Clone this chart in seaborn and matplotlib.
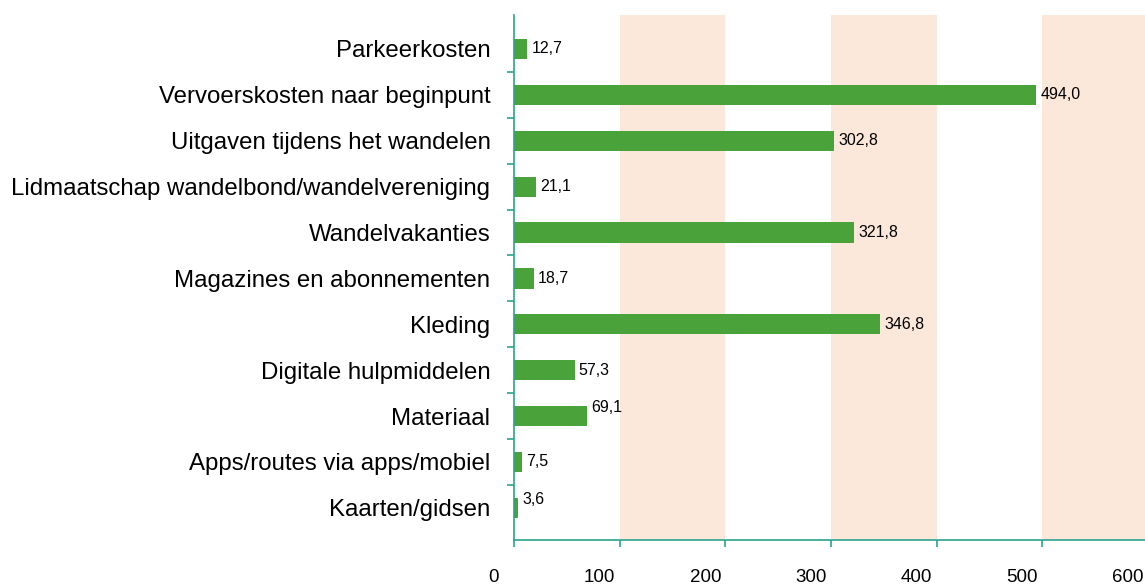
import matplotlib
matplotlib.use('Agg')
import matplotlib.pyplot as plt
import matplotlib.transforms as mtransforms
import pandas as pd
import seaborn as sns

# Uitgaven per categorie
categories = ['Parkeerkosten', 'Vervoerskosten naar beginpunt', 'Uitgaven tijdens het wandelen',
              'Lidmaatschap wandelbond/wandelvereniging', 'Wandelvakanties',
              'Magazines en abonnementen', 'Kleding', 'Digitale hulpmiddelen',
              'Materiaal', 'Apps/routes via apps/mobiel', 'Kaarten/gidsen']
values = [12.7, 494.0, 302.8, 21.1, 321.8, 18.7, 346.8, 57.3, 69.1, 7.5, 3.6]
x_ticks = [0, 100, 200, 300, 400, 500, 600]

df = pd.DataFrame({'cat': categories, 'val': values})

sns.set_style('white')
plt.rcParams['font.family'] = ['Liberation Sans', 'DejaVu Sans']
plt.rcParams['text.color'] = 'black'
plt.rcParams['xtick.labelcolor'] = 'black'
plt.rcParams['ytick.labelcolor'] = 'black'

teal = '#2BA38D'
green = '#4AA23A'
band = '#FCE8DA'

fig = plt.figure(figsize=(11.45, 5.85), dpi=100)
ax = fig.add_axes([0.4489, 0.0769, 0.5537, 0.8975])

for start in [100, 300, 500]:
    ax.axvspan(start, start + 100, color=band, lw=0, zorder=0)

sns.barplot(data=df, x='val', y='cat', orient='h', color=green, width=0.44,
            saturation=1, linewidth=0, ax=ax, zorder=2)

ax.set_xlim(0, 600)
ax.set_ylim(10.7, -0.74)
ax.set_xlabel('')
ax.set_ylabel('')

# labels
raised = {'Materiaal', 'Kaarten/gidsen'}
for i, (c, v) in enumerate(zip(categories, values)):
    dy = 6 if c in raised else 0
    ax.annotate(f'{v:.1f}'.replace('.', ','), (v, i), xytext=(3, dy),
                textcoords='offset points', ha='left', va='center', fontsize=11.5,
                color='black')

for s in ['top', 'right']:
    ax.spines[s].set_visible(False)
for s in ['left', 'bottom']:
    ax.spines[s].set_color(teal)
    ax.spines[s].set_linewidth(1.2)

ax.set_xticks(x_ticks)
ax.set_xticklabels([str(t) for t in x_ticks], fontsize=13.5)
ax.tick_params(axis='x', direction='out', length=5, color=teal, width=1.2, pad=16, bottom=True)
shift = mtransforms.ScaledTranslation(-20 / 100, 0, fig.dpi_scale_trans)
for lab in ax.get_xticklabels():
    lab.set_transform(lab.get_transform() + shift)

ax.set_yticks(range(len(categories)))
ax.set_yticklabels(categories, fontsize=17.3)
ax.set_yticks([i + 0.5 for i in range(len(categories) - 1)], minor=True)
ax.tick_params(axis='y', which='major', length=0, pad=17)
ax.tick_params(axis='y', which='minor', direction='out', length=5, color=teal, width=1.2, left=True)

fig.savefig('out.png', dpi=100)
